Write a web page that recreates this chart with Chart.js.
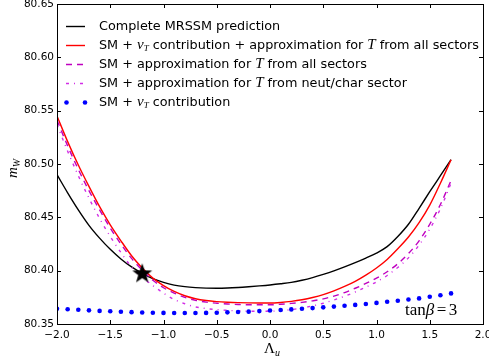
<!DOCTYPE html>
<html>
<head>
<meta charset="utf-8">
<script src="https://cdn.jsdelivr.net/npm/chart.js@4"></script>
<style>
  html, body { margin: 0; padding: 0; background: #fff; overflow: hidden; }
  #wrap { position: absolute; left: 0; top: -10px; }
</style>
</head>
<body>
<div id="wrap"><canvas id="grafico" width="503" height="372"></canvas></div>
<script>
// Lambda_u values (x)
var lambdaU = [-2.0, -1.9, -1.8, -1.7, -1.6, -1.5, -1.4, -1.3, -1.2, -1.1,
               -1.0, -0.9, -0.8, -0.7, -0.6, -0.5, -0.4, -0.3, -0.2, -0.1,
                0.0,  0.1,  0.2,  0.3,  0.4,  0.5,  0.6,  0.7,  0.8,  0.9,
                1.0,  1.1,  1.2,  1.3,  1.4,  1.5,  1.6,  1.7];

// m_W, complete MRSSM
var mwComplete = [80.490, 80.473, 80.457, 80.4425, 80.4305, 80.420, 80.411, 80.4035, 80.3975, 80.3925,
                  80.389, 80.3865, 80.385, 80.3841, 80.3836, 80.3835, 80.3837, 80.3842, 80.3849, 80.3857,
                  80.3866, 80.3877, 80.389, 80.391, 80.3935, 80.3965, 80.3998, 80.4035, 80.4075, 80.4118,
                  80.4165, 80.4225, 80.432, 80.4435, 80.4585, 80.474, 80.489, 80.504];

// SM + vT + approx T all sectors
var mwVtApprox = [80.545, 80.521, 80.499, 80.479, 80.460, 80.443, 80.428, 80.414, 80.4025, 80.393,
                  80.386, 80.3805, 80.3765, 80.3737, 80.372, 80.371, 80.3704, 80.370, 80.3698, 80.3697,
                  80.3697, 80.3702, 80.3712, 80.3727, 80.3748, 80.3775, 80.381, 80.3852, 80.390, 80.3958,
                  80.4025, 80.4105, 80.4205, 80.4315, 80.445, 80.4615, 80.482, 80.504];

// SM + approx T all sectors
var mwApproxAll = [80.541, 80.517, 80.495, 80.475, 80.457, 80.440, 80.425, 80.4115, 80.4005, 80.391,
                   80.384, 80.379, 80.375, 80.3722, 80.3705, 80.3695, 80.3688, 80.3683, 80.368, 80.368,
                   80.368, 80.3685, 80.3693, 80.3703, 80.3717, 80.3735, 80.3762, 80.3795, 80.3835, 80.388,
                   80.393, 80.399, 80.4065, 80.416, 80.428, 80.4435, 80.462, 80.4845];

// SM + approx T neut/char
var mwApproxNeut = [80.537, 80.512, 80.489, 80.468, 80.449, 80.432, 80.417, 80.4035, 80.394, 80.386,
                    80.379, 80.373, 80.369, 80.366, 80.3645, 80.3635, 80.3628, 80.3623, 80.362, 80.362,
                    80.362, 80.3625, 80.3635, 80.365, 80.367, 80.3695, 80.3725, 80.376, 80.380, 80.3845,
                    80.3895, 80.3955, 80.403, 80.412, 80.424, 80.439, 80.458, 80.482];

// SM + vT only (dots)
var mwVtOnly = [80.3643, 80.3638, 80.3633, 80.3628, 80.3623, 80.3619, 80.3615, 80.3611, 80.3608, 80.3606,
                80.3604, 80.3603, 80.3603, 80.3603, 80.3604, 80.3606, 80.3609, 80.3612, 80.3616, 80.3621,
                80.3626, 80.3631, 80.3637, 80.3643, 80.3649, 80.3656, 80.3663, 80.3671, 80.3679, 80.3688,
                80.3698, 80.3708, 80.3718, 80.3729, 80.374, 80.3755, 80.377, 80.3787];

var puntoEstrella = { x: -1.2, y: 80.3975 };

var xTicks = [-2.0, -1.5, -1.0, -0.5, 0.0, 0.5, 1.0, 1.5, 2.0];
var yTicks = [80.35, 80.40, 80.45, 80.50, 80.55, 80.60, 80.65];

function pares(ys) {
    return lambdaU.map(function (x, i) { return { x: x, y: ys[i] }; });
}

// estrella rellena de 5 puntas para el marcador
var estrella = document.createElement('canvas');
estrella.width = 22; estrella.height = 22;
(function () {
    var c = estrella.getContext('2d');
    c.beginPath();
    for (var i = 0; i < 10; i++) {
        var r = (i % 2 === 0) ? 10.5 : 4.2;
        var a = -Math.PI / 2 + i * Math.PI / 5;
        var px = 11 + r * Math.cos(a), py = 11.5 + r * Math.sin(a);
        if (i === 0) c.moveTo(px, py); else c.lineTo(px, py);
    }
    c.closePath();
    c.fillStyle = '#000';
    c.fill();
})();

var sans = '"DejaVu Sans", sans-serif';
var serif = '"Liberation Serif", "DejaVu Serif", serif';

// dibuja texto con trozos de distinta fuente
function texto(ctx, x, y, partes) {
    partes.forEach(function (p) {
        ctx.font = p.f;
        x += (p.antes || 0);
        ctx.fillText(p.t, x, y + (p.dy || 0));
        x += ctx.measureText(p.t).width + (p.despues || 0);
    });
}

var leyenda = [
    { color: '#000000', dash: [], tipo: 'linea',
      partes: [{ t: 'Complete MRSSM prediction' }] },
    { color: '#ff0000', dash: [], tipo: 'linea',
      partes: [{ t: 'SM + ' }, { t: 'v', m: 1 }, { t: 'T', m: 2 }, { t: ' contribution + approximation for ' }, { t: 'T', m: 1 }, { t: ' from all sectors' }] },
    { color: '#bf00bf', dash: [6, 5], tipo: 'linea',
      partes: [{ t: 'SM + approximation for ' }, { t: 'T', m: 1 }, { t: ' from all sectors' }] },
    { color: '#d22ee6', dash: [3, 5, 1, 5], tipo: 'linea',
      partes: [{ t: 'SM + approximation for ' }, { t: 'T', m: 1 }, { t: ' from neut/char sector' }] },
    { color: '#0000ff', dash: [], tipo: 'puntos',
      partes: [{ t: 'SM + ' }, { t: 'v', m: 1 }, { t: 'T', m: 2 }, { t: ' contribution' }] }
];

var decoracion = {
    id: 'decoracion',
    afterDraw: function (chart) {
        var ctx = chart.ctx, a = chart.chartArea;
        var sx = chart.scales.x, sy = chart.scales.y;
        ctx.save();
        // marco
        ctx.strokeStyle = '#000';
        ctx.lineWidth = 1;
        ctx.setLineDash([]);
        ctx.strokeRect(Math.round(a.left) + 0.5, Math.round(a.top) + 0.5,
                       Math.round(a.right - a.left), Math.round(a.bottom - a.top));
        // marcas hacia dentro en los cuatro lados
        ctx.beginPath();
        xTicks.forEach(function (v) {
            var px = Math.round(sx.getPixelForValue(v)) + 0.5;
            ctx.moveTo(px, a.bottom); ctx.lineTo(px, a.bottom - 4);
            ctx.moveTo(px, a.top); ctx.lineTo(px, a.top + 4);
        });
        yTicks.forEach(function (v) {
            var py = Math.round(sy.getPixelForValue(v)) + 0.5;
            ctx.moveTo(a.left, py); ctx.lineTo(a.left + 4, py);
            ctx.moveTo(a.right, py); ctx.lineTo(a.right - 4, py);
        });
        ctx.stroke();

        // leyenda
        ctx.textBaseline = 'middle';
        ctx.fillStyle = '#000';
        leyenda.forEach(function (e, i) {
            var y = a.top + 22.5 + i * 19;
            if (e.tipo === 'linea') {
                ctx.strokeStyle = e.color;
                ctx.lineWidth = 1.4;
                ctx.setLineDash(e.dash);
                ctx.beginPath();
                ctx.moveTo(a.left + 9, y); ctx.lineTo(a.left + 28, y);
                ctx.stroke();
            } else {
                ctx.fillStyle = e.color;
                [a.left + 9.5, a.left + 28].forEach(function (px) {
                    ctx.beginPath(); ctx.arc(px, y, 2.3, 0, Math.PI * 2); ctx.fill();
                });
            }
            ctx.fillStyle = '#000';
            texto(ctx, a.left + 42, y, e.partes.map(function (p) {
                if (p.m === 1) return { t: p.t, f: 'italic 15px ' + serif, dy: 0 };
                if (p.m === 2) return { t: p.t, f: 'italic 9px ' + serif, dy: 3 };
                return { t: p.t, f: '12.8px ' + sans };
            }));
        });
        ctx.setLineDash([]);

        // tan beta = 3
        ctx.textBaseline = 'alphabetic';
        texto(ctx, a.right - 78, a.bottom - 9, [
            { t: 'tan', f: '17px ' + serif },
            { t: 'β', f: 'italic 17px ' + serif },
            { t: '=', f: '17px ' + serif, antes: 2.5, despues: 2.5 },
            { t: '3', f: '17px ' + serif }
        ]);

        // títulos de ejes
        var cx = (a.left + a.right) / 2;
        texto(ctx, cx - 6, a.bottom + 29, [
            { t: 'Λ', f: '15px ' + serif },
            { t: 'u', f: 'italic 10px ' + serif, dy: 3 }
        ]);
        ctx.translate(17, (a.top + a.bottom) / 2 + 14);
        ctx.rotate(-Math.PI / 2);
        texto(ctx, 0, 0, [
            { t: 'm', f: 'italic 15px ' + serif },
            { t: 'W', f: 'italic 10px ' + serif, dy: 3 }
        ]);
        ctx.restore();
    }
};

var ctx = document.getElementById('grafico').getContext('2d');
var chart = new Chart(ctx, {
    type: 'line',
    data: {
        datasets: [
            {
                label: 'punto',
                data: [puntoEstrella],
                showLine: false,
                pointStyle: estrella,
                pointRadius: 10,
                borderColor: '#000',
                backgroundColor: '#000'
            },
            {
                label: 'SM + vT contribution',
                data: pares(mwVtOnly),
                showLine: false,
                pointRadius: 2.3,
                pointBorderWidth: 0,
                backgroundColor: '#0000ff',
                borderColor: '#0000ff'
            },
            {
                label: 'SM + approximation for T from neut/char sector',
                data: pares(mwApproxNeut),
                borderColor: '#d22ee6',
                borderWidth: 1.4,
                borderDash: [3, 5, 1, 5],
                pointRadius: 0,
                cubicInterpolationMode: 'monotone'
            },
            {
                label: 'SM + approximation for T from all sectors',
                data: pares(mwApproxAll),
                borderColor: '#bf00bf',
                borderWidth: 1.4,
                borderDash: [6, 5],
                pointRadius: 0,
                cubicInterpolationMode: 'monotone'
            },
            {
                label: 'SM + vT contribution + approximation for T from all sectors',
                data: pares(mwVtApprox),
                borderColor: '#ff0000',
                borderWidth: 1.4,
                pointRadius: 0,
                cubicInterpolationMode: 'monotone'
            },
            {
                label: 'Complete MRSSM prediction',
                data: pares(mwComplete),
                borderColor: '#000000',
                borderWidth: 1.4,
                pointRadius: 0,
                cubicInterpolationMode: 'monotone'
            }
        ]
    },
    options: {
        responsive: false,
        animation: false,
        devicePixelRatio: 1,
        layout: { padding: { left: 0, right: 20, top: 14, bottom: 0 } },
        plugins: {
            legend: { display: false },
            tooltip: { enabled: false }
        },
        scales: {
            x: {
                type: 'linear',
                min: -2.0,
                max: 2.0,
                grid: { display: false, drawTicks: false },
                border: { display: false },
                afterBuildTicks: function (s) {
                    s.ticks = xTicks.map(function (v) { return { value: v }; });
                },
                afterFit: function (s) { s.height = 38; },
                ticks: {
                    padding: 5,
                    color: '#000',
                    maxRotation: 0,
                    autoSkip: false,
                    font: { family: 'DejaVu Sans', size: 10.5 },
                    callback: function (v) { return Number(v).toFixed(1).replace('-', '\u2212'); }
                }
            },
            y: {
                type: 'linear',
                min: 80.35,
                max: 80.65,
                grid: { display: false, drawTicks: false },
                border: { display: false },
                afterBuildTicks: function (s) {
                    s.ticks = yTicks.map(function (v) { return { value: v }; });
                },
                afterFit: function (s) { s.width = 57; },
                ticks: {
                    padding: 3,
                    color: '#000',
                    autoSkip: false,
                    font: { family: 'DejaVu Sans', size: 10.5 },
                    callback: function (v) { return Number(v).toFixed(2); }
                }
            }
        }
    },
    plugins: [decoracion]
});
</script>
</body>
</html>
